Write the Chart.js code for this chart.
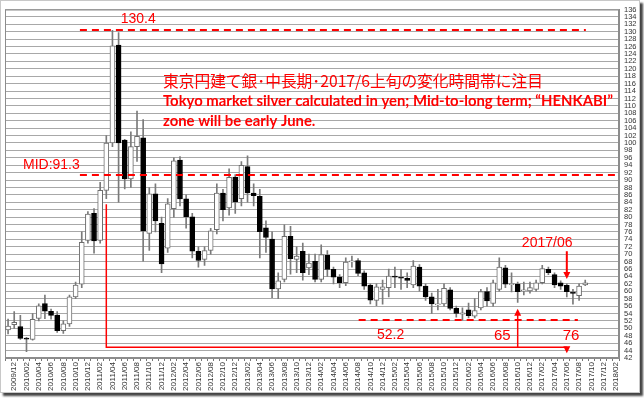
<!DOCTYPE html>
<html>
<head>
<meta charset="utf-8">
<script src="https://cdn.jsdelivr.net/npm/chart.js@4.4.0/dist/chart.umd.min.js"></script>
<style>
  body { margin: 0; background: #fff; }
  #frame {
    position: absolute; left: 0; top: 0;
    width: 638px; height: 391px;
    border: 1px solid #c8c8c8;
    box-shadow: 3px 3px 2px #444;
    background: #fff;
  }
  #silverChart { position: absolute; left: 0; top: 0; }
</style>
</head>
<body>
<div id="frame"></div>
<canvas id="silverChart" width="644" height="398"></canvas>
<script>
// monthly categories 2009/11 .. 2018/02
const months = [
  "2009/11", "2009/12",
  "2010/01", "2010/02", "2010/03", "2010/04", "2010/05", "2010/06", "2010/07", "2010/08", "2010/09", "2010/10", "2010/11", "2010/12",
  "2011/01", "2011/02", "2011/03", "2011/04", "2011/05", "2011/06", "2011/07", "2011/08", "2011/09", "2011/10", "2011/11", "2011/12",
  "2012/01", "2012/02", "2012/03", "2012/04", "2012/05", "2012/06", "2012/07", "2012/08", "2012/09", "2012/10", "2012/11", "2012/12",
  "2013/01", "2013/02", "2013/03", "2013/04", "2013/05", "2013/06", "2013/07", "2013/08", "2013/09", "2013/10", "2013/11", "2013/12",
  "2014/01", "2014/02", "2014/03", "2014/04", "2014/05", "2014/06", "2014/07", "2014/08", "2014/09", "2014/10", "2014/11", "2014/12",
  "2015/01", "2015/02", "2015/03", "2015/04", "2015/05", "2015/06", "2015/07", "2015/08", "2015/09", "2015/10", "2015/11", "2015/12",
  "2016/01", "2016/02", "2016/03", "2016/04", "2016/05", "2016/06", "2016/07", "2016/08", "2016/09", "2016/10", "2016/11", "2016/12",
  "2017/01", "2017/02", "2017/03", "2017/04", "2017/05", "2017/06", "2017/07", "2017/08", "2017/09", "2017/10", "2017/11", "2017/12",
  "2018/01", "2018/02"
];

const openPrices = [
  49.6, 51.0, 50.5, 47.3, 47.0, 52.7, 56.7, 54.6, 53.6, 49.4, 51.2, 58.5, 61.9, 73.7, 81.0, 73.7,
  87.2, 100.0, 126.4, 100.8, 90.3, 99.0, 101.4, 75.6, 86.3, 78.3, 71.6, 82.3, 95.4, 84.9, 80.1, 70.8,
  68.6, 71.0, 76.6, 86.5, 82.5, 90.8, 85.0, 93.6, 86.5, 85.6, 77.1, 74.1, 60.6, 63.2, 74.8, 68.6,
  70.8, 66.3, 68.1, 63.2, 69.7, 65.9, 63.8, 62.3, 67.9, 68.3, 65.0, 61.7, 57.5, 60.5, 61.0, 64.1,
  63.8, 63.5, 61.7, 66.5, 61.4, 58.5, 56.3, 56.6, 60.4, 55.4, 53.8, 55.0, 53.3, 55.5, 59.9, 56.7,
  60.5, 66.3, 61.8, 61.9, 60.1, 60.1, 60.5, 62.3, 65.9, 64.5, 62.3, 61.6, 59.8, 58.8, 61.7
];
const highPrices = [
  52.5, 54.5, 53.5, 47.6, 54.0, 56.6, 59.0, 55.2, 54.5, 52.0, 59.0, 62.5, 76.0, 81.5, 82.3, 89.4,
  102.0, 130.4, 129.8, 101.0, 103.0, 108.6, 106.3, 88.0, 89.0, 80.0, 85.0, 96.0, 96.3, 86.0, 81.0, 72.0,
  72.0, 77.0, 89.0, 87.5, 93.0, 91.5, 95.0, 96.5, 89.0, 87.5, 79.0, 76.0, 65.0, 77.9, 77.5, 72.0,
  73.0, 70.0, 70.0, 72.5, 71.0, 66.5, 64.5, 69.0, 69.5, 68.8, 65.5, 62.0, 62.0, 63.0, 66.0, 66.5,
  65.9, 65.0, 68.3, 67.2, 62.0, 59.5, 60.5, 62.0, 61.0, 56.0, 55.5, 56.8, 58.0, 60.5, 61.0, 63.0,
  69.0, 67.0, 65.0, 62.5, 62.5, 62.5, 63.0, 67.0, 66.5, 65.0, 62.8, 62.0, 60.5, 62.0, 63.0
];
const lowPrices = [
  48.5, 50.0, 47.0, 43.7, 46.8, 52.0, 52.6, 52.5, 48.9, 48.6, 50.5, 58.0, 61.0, 73.0, 70.3, 73.0,
  85.0, 99.0, 84.0, 87.6, 88.0, 95.0, 68.1, 71.0, 76.0, 65.0, 70.5, 80.0, 83.0, 77.0, 69.0, 66.5,
  67.0, 70.0, 75.5, 79.0, 80.5, 81.0, 83.0, 84.0, 83.0, 69.0, 70.5, 58.3, 58.0, 62.5, 64.6, 65.0,
  63.0, 64.5, 62.5, 62.5, 64.0, 62.0, 61.0, 61.5, 66.5, 64.2, 60.5, 56.6, 56.1, 56.5, 58.5, 61.0,
  60.5, 61.0, 61.0, 60.0, 57.5, 54.0, 55.0, 56.0, 55.0, 53.0, 52.2, 52.8, 52.8, 55.0, 56.0, 56.0,
  60.0, 61.0, 59.8, 57.0, 59.0, 59.5, 60.0, 62.0, 64.5, 61.0, 60.5, 58.5, 56.5, 57.5, 61.5
];
const closePrices = [
  50.6, 51.6, 47.3, 47.1, 52.4, 56.1, 54.6, 53.5, 49.4, 51.2, 58.5, 61.7, 73.2, 80.8, 73.6, 87.2,
  100.0, 126.2, 100.0, 90.3, 99.0, 101.8, 76.3, 86.3, 79.0, 67.4, 83.6, 95.2, 84.9, 80.1, 70.8, 68.3,
  71.0, 76.3, 86.5, 82.0, 90.7, 84.1, 94.0, 86.5, 85.8, 76.1, 74.5, 60.6, 62.8, 74.8, 68.8, 69.5,
  65.0, 67.6, 63.2, 69.9, 65.9, 63.8, 62.3, 67.9, 68.2, 64.8, 61.4, 57.6, 61.2, 61.2, 64.1, 63.8,
  63.5, 62.9, 66.8, 61.4, 58.5, 56.6, 56.6, 60.8, 55.4, 54.0, 54.2, 53.4, 54.8, 59.9, 57.4, 62.3,
  66.5, 61.9, 61.9, 59.9, 60.3, 61.0, 62.3, 66.1, 65.0, 61.7, 61.4, 59.9, 59.4, 61.4, 62.3
];

const RED = "#ff0000";

const bodies = openPrices.map((o, i) => [o, closePrices[i]]);
const wicks = lowPrices.map((l, i) => [l, highPrices[i]]);
const isUp = openPrices.map((o, i) => closePrices[i] >= o);

// red notes drawn on top of the candles
const notesPlugin = {
  id: "notes",
  afterDatasetsDraw(chart) {
    const { ctx, chartArea, scales } = chart;
    const x0 = scales.x.getPixelForValue(0);
    const step = scales.x.getPixelForValue(1) - x0;
    const px = i => x0 + i * step;
    const py = v => scales.y.getPixelForValue(v);

    ctx.save();
    ctx.strokeStyle = RED;
    ctx.fillStyle = RED;

    // dashed levels
    ctx.lineWidth = 2;
    ctx.setLineDash([7, 5]);
    const dashed = (a, b, v) => {
      ctx.beginPath();
      ctx.moveTo(a, Math.round(py(v)));
      ctx.lineTo(b, Math.round(py(v)));
      ctx.stroke();
    };
    dashed(px(11.7), px(94.1), 130.4);
    dashed(px(11.7), chartArea.right, 91.3);
    dashed(px(57.1), px(92.8), 52.2);
    ctx.setLineDash([]);

    // bracket from 2011/03 to 2017/06
    ctx.lineWidth = 1.5;
    ctx.beginPath();
    ctx.moveTo(px(16), py(83.5));
    ctx.lineTo(px(16), py(44.9));
    ctx.lineTo(px(91), py(44.9));
    ctx.stroke();

    const tri = (x, y, dir) => {
      ctx.beginPath();
      ctx.moveTo(x, y);
      ctx.lineTo(x - 3.5, y - 7 * dir);
      ctx.lineTo(x + 3.5, y - 7 * dir);
      ctx.closePath();
      ctx.fill();
    };
    tri(px(91), py(44.9) + 6, 1);

    // up arrow at 2016/10
    ctx.beginPath();
    ctx.moveTo(px(83), py(44.9));
    ctx.lineTo(px(83), py(55.3) + 4);
    ctx.stroke();
    tri(px(83), py(55.3), -1);

    // down arrow at 2017/06
    ctx.lineWidth = 2;
    ctx.beginPath();
    ctx.moveTo(px(91), py(70.8));
    ctx.lineTo(px(91), py(63.3) - 4);
    ctx.stroke();
    tri(px(91), py(63.3), 1);

    // labels
    ctx.textBaseline = "middle";
    ctx.textAlign = "center";
    ctx.font = "14px 'Liberation Sans', Arial, sans-serif";
    ctx.fillText("130.4", px(21.2), py(133.3));
    ctx.fillText("52.2", px(62.3), py(48.1));
    ctx.fillText("2017/06", px(87.8), py(73.0));
    ctx.font = "15px 'Liberation Sans', Arial, sans-serif";
    ctx.fillText("65", px(80.5), py(48.1));
    ctx.fillText("76", px(91.7), py(48.1));
    ctx.textAlign = "left";
    ctx.font = "14px 'Liberation Sans', Arial, sans-serif";
    ctx.fillText("MID:91.3", 23, py(93.9));

    // title block, sized to the widths in the picture
    const fit = (text, weight, family, width) => {
      ctx.font = weight + " 20px " + family;
      const size = 20 * width / ctx.measureText(text).width;
      ctx.font = weight + " " + size.toFixed(2) + "px " + family;
    };
    const jp = "東京円建て銀･中長期･2017/6上旬の変化時間帯に注目";
    fit(jp, "normal", "'Noto Sans CJK JP', sans-serif", 380);
    ctx.fillText(jp, 163, 81);
    const en1 = "Tokyo market silver calculated in yen; Mid-to-long term; \u201cHENKABI\u201d";
    fit(en1, "bold", "Lato, sans-serif", 450);
    ctx.fillText(en1, 163, 101);
    ctx.fillText("zone will be early June.", 163, 121);

    ctx.restore();
  }
};

const frameBorder = {
  id: "frameBorder",
  beforeDatasetsDraw(chart) {
    const { ctx, chartArea } = chart;
    ctx.save();
    ctx.strokeStyle = "#8c8c8c";
    ctx.lineWidth = 1;
    ctx.strokeRect(chartArea.left + 0.5, chartArea.top + 0.5,
      chartArea.width - 1, chartArea.height - 1);
    ctx.restore();
  }
};

new Chart(document.getElementById("silverChart"), {
  type: "bar",
  data: {
    labels: months,
    datasets: [
      {
        data: bodies,
        order: 1,
        grouped: false,
        barThickness: 5,
        minBarLength: 1,
        backgroundColor: isUp.map(u => (u ? "#ffffff" : "#000000")),
        borderColor: isUp.map(u => (u ? "#6e6e6e" : "#000000")),
        borderWidth: 1,
        borderSkipped: false
      },
      {
        data: wicks,
        order: 2,
        grouped: false,
        barThickness: 1,
        backgroundColor: "#7a7a7a",
        borderWidth: 0
      }
    ]
  },
  options: {
    responsive: false,
    animation: false,
    devicePixelRatio: 1,
    layout: { padding: { left: 5, top: 4, right: 0, bottom: 0 } },
    plugins: { legend: { display: false }, tooltip: { enabled: false } },
    scales: {
      x: {
        afterFit: s => { s.height = 40; },
        grid: { drawOnChartArea: false, drawTicks: true, tickLength: 3, color: "#777" },
        border: { color: "#8c8c8c" },
        ticks: {
          autoSkip: false,
          minRotation: 90,
          maxRotation: 90,
          padding: 1,
          color: "#333",
          font: { size: 8, family: "'Liberation Sans', Arial, sans-serif" },
          callback: (v, i) => (i % 2 === 1 ? months[i] : "")
        }
      },
      y: {
        position: "right",
        min: 42,
        max: 136,
        afterFit: s => { s.width = 25; },
        grid: { color: "#a8a8a8", drawTicks: false },
        border: { color: "#8c8c8c" },
        ticks: {
          stepSize: 2,
          autoSkip: false,
          padding: 5,
          color: "#333",
          font: { size: 7.5, family: "'Liberation Sans', Arial, sans-serif" }
        }
      }
    }
  },
  plugins: [frameBorder, notesPlugin]
});
</script>
</body>
</html>
